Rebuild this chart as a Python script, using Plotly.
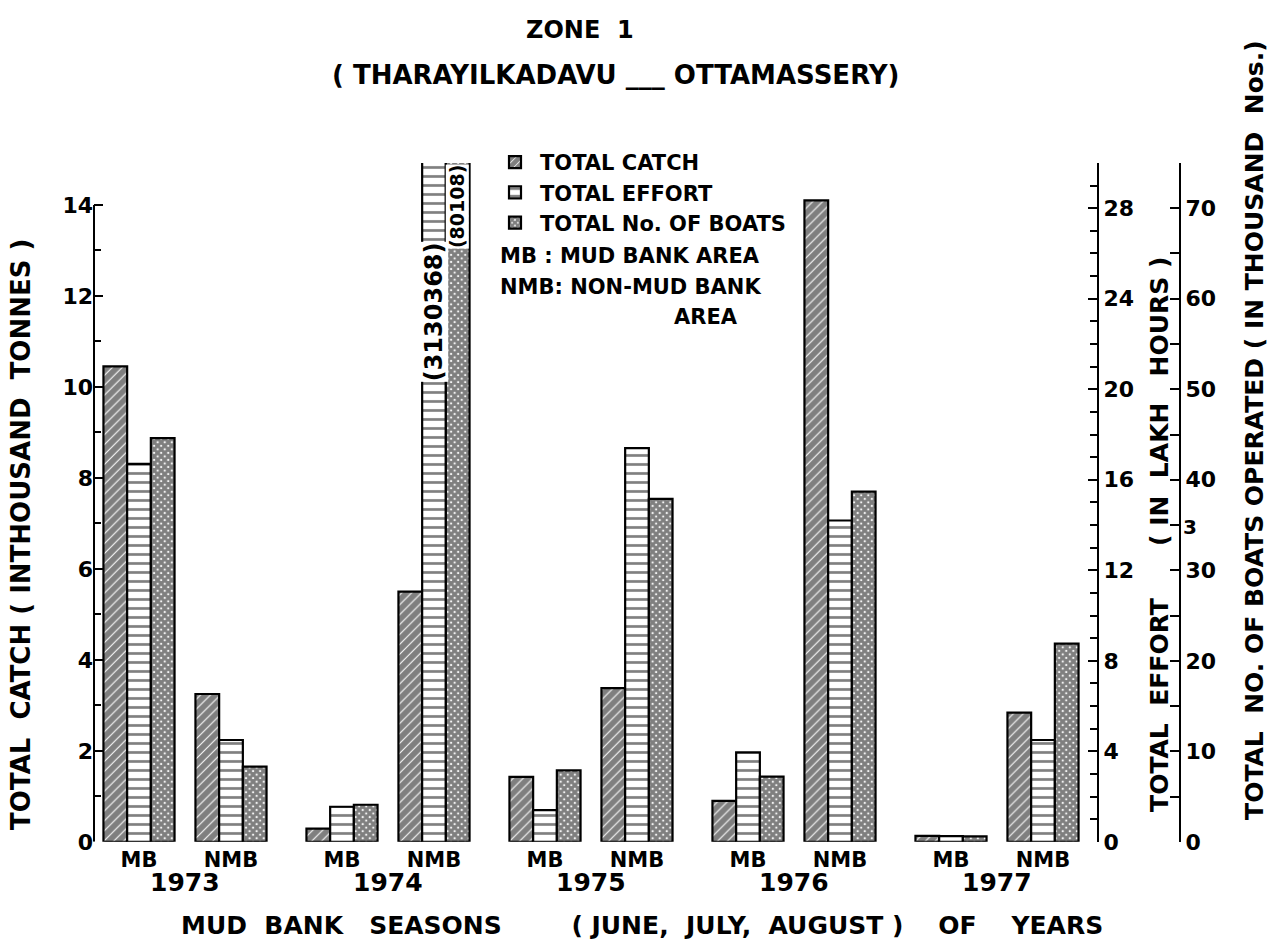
import plotly.graph_objects as go

# Mud bank seasons, Zone 1
years = ["1973", "1974", "1975", "1976", "1977"]
areas = ["MB", "NMB"]

# values per (year, area): MB then NMB for each year
catch_kt = [10.45, 3.25, 0.29, 5.5, 1.43, 3.38, 0.9, 14.1, 0.13, 2.84]        # thousand tonnes
effort_lakh_h = [16.7, 4.5, 1.55, 31.30368, 1.4, 17.4, 3.95, 14.2, 0.25, 4.5]  # lakh hours
boats_k = [44.6, 8.3, 4.1, 80.108, 7.9, 37.9, 7.2, 38.7, 0.6, 21.9]            # thousand boats

W, H = 1278, 946
FONT = "DejaVu Sans"
VK = 959 / 946  # vertical layout stretch


def px_x(p):
    return p / W


def px_y(p):
    return 1 - p * VK / H


# plot area in pixels
X0, X1 = 94, 1097
Y0, Y1 = 842, 163
XR = X1 - X0

YEAR_STEP, AREA_STEP, FIRST = 203, 92, 45
BAR_W = 23.7

centers, labels = [], []
for i, _ in enumerate(years):
    for j, a in enumerate(areas):
        centers.append(FIRST + YEAR_STEP * i + AREA_STEP * j)
        labels.append(a)

fig = go.Figure()

outline = dict(color="black", width=2.2)
fig.add_trace(go.Bar(
    x=centers, y=catch_kt, width=BAR_W, offset=-1.5 * BAR_W, yaxis="y",
    name="TOTAL CATCH",
    marker=dict(color="white", line=outline,
                pattern=dict(shape="/", fgcolor="black", bgcolor="white", size=7, solidity=0.85)),
))
fig.add_trace(go.Bar(
    x=centers, y=effort_lakh_h, width=BAR_W, offset=-0.5 * BAR_W, yaxis="y2",
    name="TOTAL EFFORT",
    marker=dict(color="white", line=outline,
                pattern=dict(shape="-", fgcolor="black", bgcolor="white", size=9, solidity=0.3)),
))
fig.add_trace(go.Bar(
    x=centers, y=boats_k, width=BAR_W, offset=0.5 * BAR_W, yaxis="y3",
    name="TOTAL No. OF BOATS",
    marker=dict(color="white", line=outline,
                pattern=dict(shape="x", fgcolor="black", bgcolor="white", size=5, solidity=0.85)),
))

tickfont = dict(family=FONT, size=22, color="black", weight="bold")
catch_top = 14 * (Y0 - Y1) / (Y0 - 205)

fig.update_layout(
    width=W, height=H,
    margin=dict(l=0, r=0, t=0, b=0),
    paper_bgcolor="white", plot_bgcolor="white",
    barmode="overlay",
    font=dict(family=FONT, color="black", weight="bold"),
    xaxis=dict(
        domain=[px_x(X0), px_x(X1)], range=[0, XR],
        tickvals=centers, ticktext=labels,
        tickfont=dict(family=FONT, size=21, color="black", weight="bold"),
        ticklabelstandoff=3,
        showline=False, showgrid=False, zeroline=False, ticks="",
    ),
    yaxis=dict(
        domain=[px_y(Y0), px_y(Y1)], range=[0, catch_top],
        tickvals=list(range(0, 15, 2)), tickfont=tickfont,
        ticks="inside", ticklen=9, tickwidth=2, tickcolor="black",
        minor=dict(tickvals=list(range(1, 15, 2)), ticks="inside", ticklen=7, tickwidth=2, tickcolor="black"),
        showline=False, showgrid=False, zeroline=False,
    ),
    yaxis2=dict(
        overlaying="y", side="right", anchor="x", range=[0, 30],
        tickvals=list(range(0, 29, 4)), tickfont=tickfont,
        ticks="inside", ticklen=9, tickwidth=2, tickcolor="black",
        minor=dict(dtick=1, ticks="inside", ticklen=7, tickwidth=2, tickcolor="black"),
        showline=True, linecolor="black", linewidth=2, showgrid=False, zeroline=False,
    ),
    yaxis3=dict(
        overlaying="y", side="right", anchor="free", position=px_x(1180), range=[0, 75],
        tickvals=list(range(0, 71, 10)), tickfont=tickfont,
        ticks="inside", ticklen=9, tickwidth=2, tickcolor="black",
        minor=dict(dtick=5, ticks="inside", ticklen=9, tickwidth=2, tickcolor="black"),
        showline=True, linecolor="black", linewidth=2, showgrid=False, zeroline=False,
    ),
    legend=dict(
        x=px_x(490), y=px_y(142), xanchor="left", yanchor="top",
        font=dict(family=FONT, size=21, color="black", weight="bold"),
        bgcolor="rgba(0,0,0,0)", tracegroupgap=0, itemwidth=40,
    ),
    showlegend=True,
)

# left axis spine, ending at the 14 mark
fig.add_shape(type="line", xref="paper", yref="y", x0=px_x(X0), x1=px_x(X0), y0=0, y1=14,
              line=dict(color="black", width=2))

ann = []


def text(x, y, s, size=20, angle=0, xanchor="center", **kw):
    ann.append(dict(x=px_x(x), y=px_y(y), xref="paper", yref="paper", text=s, showarrow=False,
                    textangle=angle, xanchor=xanchor, yanchor="middle",
                    font=dict(family=FONT, size=size, color="black", weight="bold"), **kw))


text(580, 30, "ZONE  1", size=24)
text(615, 75, "( THARAYILKADAVU ___ OTTAMASSERY)", size=26)

# year labels under each MB/NMB pair
for i, yr in enumerate(years):
    text(X0 + FIRST + YEAR_STEP * i + AREA_STEP / 2, 883, yr, size=25)

text(642, 926, "MUD  BANK   SEASONS        ( JUNE,  JULY,  AUGUST )    OF    YEARS", size=25)

text(21, 535, "TOTAL  CATCH ( INTHOUSAND  TONNES )", size=26, angle=-90)
text(1160, 535, "TOTAL  EFFORT      ( IN  LAKH   HOURS )", size=25, angle=-90)
text(1255, 430, "TOTAL  NO. OF BOATS OPERATED ( IN THOUSAND  Nos.)", size=25, angle=-90)

text(498, 256, "MB : MUD BANK AREA", size=21, xanchor="left")
text(498, 287, "NMB: NON-MUD BANK", size=21, xanchor="left")
text(672, 317, "AREA", size=21, xanchor="left")

text(1190, 527, "3", size=20)

# off-scale values written inside the clipped 1974 NMB bars
k = years.index("1974") * 2 + 1
ann.append(dict(x=centers[k], y=23.4, xref="x", yref="y2",
                text=f"({effort_lakh_h[k] * 1e5:.0f})", showarrow=False, textangle=-90,
                font=dict(family=FONT, size=24, color="black", weight="bold"),
                bgcolor="white", borderpad=0))
ann.append(dict(x=centers[k] + BAR_W, y=70.2, xref="x", yref="y3",
                text=f"({boats_k[k] * 1e3:.0f})", showarrow=False, textangle=-90,
                font=dict(family=FONT, size=19, color="black", weight="bold"),
                bgcolor="white", borderpad=0))

fig.update_layout(annotations=ann)

fig.write_html("out.html")
